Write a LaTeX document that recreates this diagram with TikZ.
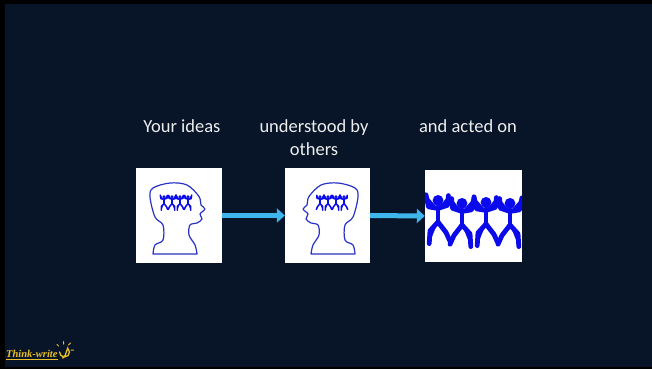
\documentclass[tikz,border=0pt]{standalone}
\usepackage{fontspec}
\setmainfont{Carlito}
\newfontfamily\logofont{Liberation Serif}
\usetikzlibrary{arrows.meta}

\definecolor{slidebg}{RGB}{8,20,40}
\definecolor{arrowblue}{RGB}{62,182,236}
\definecolor{headblue}{RGB}{40,50,200}
\definecolor{dancerblue}{RGB}{10,10,235}
\definecolor{logogold}{RGB}{232,192,40}
\definecolor{captiongray}{RGB}{238,238,238}

\tikzset{
  panel/.style={fill=white, draw=none, inner sep=0},
  caption/.style={text=captiongray, font=\fontsize{18.5}{23}\selectfont, align=center, inner sep=0},
  flow/.style={draw=arrowblue, line width=5pt, -{Triangle[length=8pt,width=14pt]}, shorten >=0pt},
  headline/.style={draw=headblue, line width=1.2pt, line join=round},
  ink/.style={draw=dancerblue, fill=dancerblue, line cap=round, line join=round},
  % one dancing figure, hip at the origin, y pointing down
  dancer/.pic={
    \fill[dancerblue] (0,-13.5) circle[radius=3.4];
    \draw[ink] (0,-9.5) -- (0,0);
    \draw[ink] (0,-8.5) -- (-6,-9.5) -- (-7.5,-17);
    \draw[ink] (0,-8.5) -- (6,-10.5) -- (6.5,-16.5);
    \draw[ink] (0,0) -- (-5,5.5) -- (-5.5,13.5);
    \draw[ink] (0,0) -- (5,6.5) -- (7.5,12);
  },
  % head in profile facing right, centred in its panel
  head/.pic={
    \draw[headline] plot[smooth, tension=0.55] coordinates {
      (-26,38.5) (-24,29.5) (-16,24.5) (-16,9.5) (-24,1.5) (-29,-18.5)
      (-26,-27.5) (-9,-32.5) (8,-30.5) (20,-19) (22,-10.5) (26,-6.5)
      (21,-1.5) (23,3.5) (18,7.5) (11,9.5) (10,19.5) (16,29.5) (18,38.5)}
      -- cycle;
    \begin{scope}[ink/.append style={line width=1.5pt}]
      \foreach \dx/\fl in {-15/1, -7/-1, 1/1, 9/-1}
        \pic[scale=0.5, xscale=\fl] at (\dx,-12) {dancer};
    \end{scope}
  }
}

\begin{document}
\begin{tikzpicture}[x=1pt, y=-1pt]
  \useasboundingbox (0,0) rectangle (652,369);
  % slide frame and background
  \fill[black] (0,0) rectangle (652,369);
  \fill[slidebg] (5,4) rectangle (652,367);

  % captions
  \node[caption, anchor=base] (cap1) at (182,132) {Your ideas};
  \node[caption, anchor=base] (cap2) at (314,132) {understood by};
  \node[caption, anchor=base] (cap2b) at (314,155) {others};
  \node[caption, anchor=base] (cap3) at (468,132) {and acted on};

  % the three panels
  \node[panel, minimum width=86pt, minimum height=95pt] (p1) at (179,215.5) {};
  \node[panel, minimum width=85pt, minimum height=95pt] (p2) at (327.5,215.5) {};
  \node[panel, minimum width=97pt, minimum height=92pt] (p3) at (473.5,216) {};

  % heads
  \pic at (p1.center) {head};
  \pic[xscale=-1] at (329,215.5) {head};

  % crowd of dancers, cut at the panel edge
  \begin{scope}
    \clip (p3.south west) rectangle (p3.north east);
    \begin{scope}[ink/.append style={line width=4.8pt}]
      \pic[scale=1.6] at (438,222) {dancer};
      \pic[scale=1.6, xscale=-1] at (462,225) {dancer};
      \pic[scale=1.6] at (486,224) {dancer};
      \pic[scale=1.6, xscale=-1] at (510,225) {dancer};
    \end{scope}
  \end{scope}

  % connectors
  \draw[flow] (p1.east) -- (p2.west);
  \draw[flow] (p2.east) -- (p3.west);

  % logo
  \node[anchor=base west, inner sep=0, text=logogold,
        font=\logofont\bfseries\itshape\fontsize{10.5}{10.5}\selectfont] (logo) at (6,357) {Think-write};
  \draw[logogold, line width=0.9pt] ([yshift=-2.5pt]logo.base west) -- ([yshift=-2.5pt]logo.base east);
  \coordinate (bulb) at (64.5,352);
  \draw[logogold, line width=1.3pt, line cap=round]
    ([shift={(-5,0)}]bulb) arc[start angle=180, end angle=-50, radius=5]
    -- ++(-1.5,4) -- ++(-1,3) -- ++(-2.5,3);
  \draw[logogold, line width=1pt, line cap=round]
    ([shift={(-1,-8)}]bulb) -- ++(0,-2.5)
    ([shift={(4,-7)}]bulb) -- ++(2,-2)
    ([shift={(6.5,-2)}]bulb) -- ++(2.5,0)
    ([shift={(-6,-6)}]bulb) -- ++(-1.5,-1.5);
\end{tikzpicture}
\end{document}
